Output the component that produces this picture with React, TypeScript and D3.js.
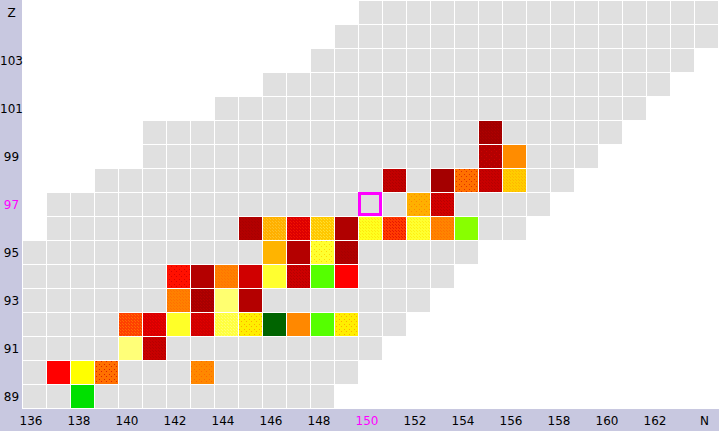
import React from "react";
import * as d3 from "d3";

// Axis domains
const nValues = d3.range(136, 165); // 136..164
const zValues = d3.range(105, 88, -1); // 105..89

// Known-nuclide (gray) extent per row: [Z, firstN, lastN]
const rowZ = [105, 104, 103, 102, 101, 100, 99, 98, 97, 96, 95, 94, 93, 92, 91, 90, 89];
const rowFirstN = [150, 149, 148, 146, 144, 141, 141, 139, 137, 137, 136, 136, 136, 136, 136, 136, 136];
const rowLastN = [164, 164, 163, 162, 161, 160, 159, 158, 157, 156, 154, 153, 152, 151, 150, 149, 148];

// Coloured nuclides: Z, N, base colour, dot colour, texture ("" | "fine" | "sparse")
const nucZ = [
  100, 99, 99,
  98, 98, 98, 98, 98,
  97, 97,
  96, 96, 96, 96, 96, 96, 96, 96, 96, 96,
  95, 95, 95, 95,
  94, 94, 94, 94, 94, 94, 94, 94,
  93, 93, 93, 93,
  92, 92, 92, 92, 92, 92, 92, 92, 92, 92,
  91, 91,
  90, 90, 90, 90,
  89,
];
const nucN = [
  155, 155, 156,
  151, 153, 154, 155, 156,
  152, 153,
  145, 146, 147, 148, 149, 150, 151, 152, 153, 154,
  146, 147, 148, 149,
  142, 143, 144, 145, 146, 147, 148, 149,
  142, 143, 144, 145,
  140, 141, 142, 143, 144, 145, 146, 147, 148, 149,
  140, 141,
  137, 138, 139, 143,
  138,
];
const nucColor = [
  "#a20000", "#b40000", "#ff8c00",
  "#c20000", "#a40000", "#ff7000", "#c80000", "#ffcc00",
  "#ffb000", "#d20000",
  "#b20000", "#ffb000", "#dd0000", "#ffc800", "#b00000", "#ffff20", "#ff3a00", "#ffff30", "#ff8400", "#88ff00",
  "#ffb400", "#b40000", "#ffff30", "#b00000",
  "#ff1000", "#b40000", "#ff8000", "#d00000", "#ffff30", "#cc0000", "#55ff00", "#ff0000",
  "#ff8000", "#a80000", "#ffff70", "#b40000",
  "#ff4000", "#d80000", "#ffff28", "#d00000", "#ffff40", "#ffee00", "#006400", "#ff8800", "#55ff00", "#ffee00",
  "#ffff78", "#c80000",
  "#ff0000", "#ffff00", "#ff7000", "#ff8800",
  "#00e000",
];
const nucDot = [
  "#b80000", "#d00000", "",
  "#a00000", "", "#e03000", "#a80000", "#ffa800",
  "#ff8800", "#a80000",
  "#a00000", "#ffcc40", "#ff2000", "#ffee50", "", "#ffd800", "#d80000", "#ffe400", "#ff6400", "",
  "", "", "#ffd800", "#a00000",
  "#d80000", "", "#ff6a00", "", "", "#a80000", "", "",
  "#ff6600", "#c40000", "", "",
  "#ff8800", "#ff0000", "", "#ee0000", "#ffff90", "#ffaa00", "", "", "", "#ffaa00",
  "", "#a80000",
  "", "", "#dd2200", "#ff6600",
  "",
];
const nucTexture = [
  "fine", "sparse", "",
  "fine", "", "sparse", "fine", "fine",
  "sparse", "fine",
  "fine", "fine", "fine", "fine", "", "fine", "fine", "fine", "fine", "",
  "", "", "sparse", "fine",
  "sparse", "", "fine", "", "", "fine", "", "",
  "fine", "fine", "", "",
  "fine", "fine", "", "fine", "fine", "sparse", "", "", "", "sparse",
  "", "fine",
  "", "", "sparse", "sparse",
  "",
];

// Highlighted (current) nuclide
const selZ = 97;
const selN = 150;

// Axis labels
const zLabels = [105, 103, 101, 99, 97, 95, 93, 91, 89];
const nLabels = [136, 138, 140, 142, 144, 146, 148, 150, 152, 154, 156, 158, 160, 162, 164];

const W = 719;
const H = 431;
const LEFT = 22;
const BOTTOM = 408;
const BAND = "#c8c8e0";
const GRAY = "#e0e0e0";
const MAGENTA = "#ff00ff";

export default function App() {
  const x = d3.scaleBand<number>().domain(nValues).range([LEFT, LEFT + nValues.length * 24]).padding(0);
  const y = d3.scaleBand<number>().domain(zValues).range([0, zValues.length * 24]).padding(0);
  const bw = x.bandwidth();
  const bh = y.bandwidth();

  const grayCells: { z: number; n: number }[] = [];
  rowZ.forEach((z, i) => {
    for (let n = rowFirstN[i]; n <= rowLastN[i]; n++) grayCells.push({ z, n });
  });

  const colored = nucZ.map((z, i) => ({
    z,
    n: nucN[i],
    color: nucColor[i],
    dot: nucTexture[i] === "fine" && nucDot[i] ? d3.interpolateRgb(nucColor[i], nucDot[i])(0.6) : nucDot[i],
    tex: nucTexture[i],
    id: `pat${i}`,
  }));

  const font = "'DejaVu Sans', Verdana, sans-serif";

  return (
    <svg
      width={W}
      height={H}
      style={{ position: "absolute", left: 0, top: 0, display: "block" }}
      shapeRendering="crispEdges"
    >
      <defs>
        {colored
          .filter((c) => c.tex !== "")
          .map((c) =>
            c.tex === "fine" ? (
              <pattern key={c.id} id={c.id} width={3} height={3} patternUnits="userSpaceOnUse">
                <rect width={3} height={3} fill={c.color} />
                <rect x={0} y={0} width={1} height={1} fill={c.dot} />
                <rect x={1.5} y={1.5} width={1} height={1} fill={c.dot} />
              </pattern>
            ) : (
              <pattern key={c.id} id={c.id} width={5} height={5} patternUnits="userSpaceOnUse">
                <rect width={5} height={5} fill={c.color} />
                <rect x={1} y={1} width={1} height={1} fill={c.dot} />
                <rect x={3.5} y={3.5} width={1} height={1} fill={c.dot} />
              </pattern>
            )
          )}
      </defs>
      <rect x={0} y={0} width={W} height={H} fill="#ffffff" />
      {/* axis bands */}
      <rect x={0} y={0} width={LEFT} height={H} fill={BAND} />
      <rect x={0} y={BOTTOM + 1} width={W} height={H - BOTTOM - 1} fill={BAND} />

      {/* gray cells */}
      {grayCells.map((c) => (
        <rect
          key={`g${c.z}-${c.n}`}
          x={(x(c.n) as number) + 1}
          y={(y(c.z) as number) + 1}
          width={bw - 1}
          height={bh - 1}
          fill={GRAY}
        />
      ))}

      {/* coloured cells */}
      {colored.map((c) => (
        <rect
          key={`c${c.z}-${c.n}`}
          x={(x(c.n) as number) + 1}
          y={(y(c.z) as number) + 1}
          width={bw - 1}
          height={bh - 1}
          fill={c.tex === "" ? c.color : `url(#${c.id})`}
        />
      ))}

      {/* selected nuclide */}
      <rect
        x={(x(selN) as number) + 1.5}
        y={(y(selZ) as number) + 1.5}
        width={bw - 3}
        height={bh - 3}
        fill="none"
        stroke={MAGENTA}
        strokeWidth={3}
        shapeRendering="auto"
      />

      {/* Z labels */}
      {zLabels.map((z) => (
        <text
          key={`zl${z}`}
          x={11.5}
          y={(y(z) as number) + bh / 2 + 1.5}
          textAnchor="middle"
          dominantBaseline="middle"
          fontFamily={font}
          fontSize={12}
          fill={z === selZ ? MAGENTA : "#000000"}
        >
          {z === zValues[0] ? "Z" : String(z)}
        </text>
      ))}

      {/* N labels */}
      {nLabels.map((n) => (
        <text
          key={`nl${n}`}
          x={(x(n) as number) + bw / 2 + (n === nValues[nValues.length - 1] ? -1.5 : -3)}
          y={(BOTTOM + H) / 2 + 1.5}
          textAnchor="middle"
          dominantBaseline="middle"
          fontFamily={font}
          fontSize={12}
          fill={n === selN ? MAGENTA : "#000000"}
        >
          {n === nValues[nValues.length - 1] ? "N" : String(n)}
        </text>
      ))}
    </svg>
  );
}
